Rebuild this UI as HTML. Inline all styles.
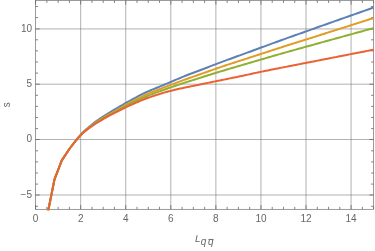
<!DOCTYPE html>
<html><head><meta charset="utf-8"><title>plot</title>
<style>
html,body{margin:0;padding:0;background:#fff;}
body{width:375px;height:251px;overflow:hidden;position:relative;font-family:"Liberation Sans",sans-serif;}
</style></head><body>
<svg width="375" height="251" viewBox="0 0 375 251" style="position:absolute;left:0;top:0">
<rect width="375" height="251" fill="#fff"/>
<line x1="80.67" y1="0.45" x2="80.67" y2="209.3" stroke="#666" stroke-opacity="0.5" stroke-width="1"/>
<line x1="125.74" y1="0.45" x2="125.74" y2="209.3" stroke="#666" stroke-opacity="0.5" stroke-width="1"/>
<line x1="170.81" y1="0.45" x2="170.81" y2="209.3" stroke="#666" stroke-opacity="0.5" stroke-width="1"/>
<line x1="215.88" y1="0.45" x2="215.88" y2="209.3" stroke="#666" stroke-opacity="0.5" stroke-width="1"/>
<line x1="260.95" y1="0.45" x2="260.95" y2="209.3" stroke="#666" stroke-opacity="0.5" stroke-width="1"/>
<line x1="306.02" y1="0.45" x2="306.02" y2="209.3" stroke="#666" stroke-opacity="0.5" stroke-width="1"/>
<line x1="351.09" y1="0.45" x2="351.09" y2="209.3" stroke="#666" stroke-opacity="0.5" stroke-width="1"/>
<line x1="35.5" y1="195.00" x2="373.6" y2="195.00" stroke="#666" stroke-opacity="0.5" stroke-width="1"/>
<line x1="35.5" y1="139.50" x2="373.6" y2="139.50" stroke="#666" stroke-opacity="0.5" stroke-width="1"/>
<line x1="35.5" y1="84.20" x2="373.6" y2="84.20" stroke="#666" stroke-opacity="0.5" stroke-width="1"/>
<line x1="35.5" y1="28.95" x2="373.6" y2="28.95" stroke="#666" stroke-opacity="0.5" stroke-width="1"/>
<path d="M35.60,209.3 v-4.2 M35.60,0.45 v4.2 M46.87,209.3 v-2.5 M46.87,0.45 v2.5 M58.14,209.3 v-2.5 M58.14,0.45 v2.5 M69.40,209.3 v-2.5 M69.40,0.45 v2.5 M80.67,209.3 v-4.2 M80.67,0.45 v4.2 M91.94,209.3 v-2.5 M91.94,0.45 v2.5 M103.21,209.3 v-2.5 M103.21,0.45 v2.5 M114.47,209.3 v-2.5 M114.47,0.45 v2.5 M125.74,209.3 v-4.2 M125.74,0.45 v4.2 M137.01,209.3 v-2.5 M137.01,0.45 v2.5 M148.28,209.3 v-2.5 M148.28,0.45 v2.5 M159.54,209.3 v-2.5 M159.54,0.45 v2.5 M170.81,209.3 v-4.2 M170.81,0.45 v4.2 M182.08,209.3 v-2.5 M182.08,0.45 v2.5 M193.34,209.3 v-2.5 M193.34,0.45 v2.5 M204.61,209.3 v-2.5 M204.61,0.45 v2.5 M215.88,209.3 v-4.2 M215.88,0.45 v4.2 M227.15,209.3 v-2.5 M227.15,0.45 v2.5 M238.41,209.3 v-2.5 M238.41,0.45 v2.5 M249.68,209.3 v-2.5 M249.68,0.45 v2.5 M260.95,209.3 v-4.2 M260.95,0.45 v4.2 M272.22,209.3 v-2.5 M272.22,0.45 v2.5 M283.49,209.3 v-2.5 M283.49,0.45 v2.5 M294.75,209.3 v-2.5 M294.75,0.45 v2.5 M306.02,209.3 v-4.2 M306.02,0.45 v4.2 M317.29,209.3 v-2.5 M317.29,0.45 v2.5 M328.56,209.3 v-2.5 M328.56,0.45 v2.5 M339.82,209.3 v-2.5 M339.82,0.45 v2.5 M351.09,209.3 v-4.2 M351.09,0.45 v4.2 M362.36,209.3 v-2.5 M362.36,0.45 v2.5 M373.62,209.3 v-2.5 M373.62,0.45 v2.5 M35.5,206.30 h2.5 M373.6,206.30 h-2.5 M35.5,195.00 h4.2 M373.6,195.00 h-4.2 M35.5,184.10 h2.5 M373.6,184.10 h-2.5 M35.5,173.00 h2.5 M373.6,173.00 h-2.5 M35.5,161.90 h2.5 M373.6,161.90 h-2.5 M35.5,150.80 h2.5 M373.6,150.80 h-2.5 M35.5,139.50 h4.2 M373.6,139.50 h-4.2 M35.5,128.60 h2.5 M373.6,128.60 h-2.5 M35.5,117.50 h2.5 M373.6,117.50 h-2.5 M35.5,106.40 h2.5 M373.6,106.40 h-2.5 M35.5,95.30 h2.5 M373.6,95.30 h-2.5 M35.5,84.20 h4.2 M373.6,84.20 h-4.2 M35.5,73.10 h2.5 M373.6,73.10 h-2.5 M35.5,62.00 h2.5 M373.6,62.00 h-2.5 M35.5,50.90 h2.5 M373.6,50.90 h-2.5 M35.5,39.80 h2.5 M373.6,39.80 h-2.5 M35.5,28.95 h4.2 M373.6,28.95 h-4.2 M35.5,17.60 h2.5 M373.6,17.60 h-2.5 M35.5,6.50 h2.5 M373.6,6.50 h-2.5" stroke="#666666" stroke-width="0.8" fill="none"/>
<rect x="35.5" y="0.45" width="338.1" height="208.85000000000002" fill="none" stroke="#666666" stroke-width="0.65"/>
<clipPath id="c"><rect x="35.5" y="0.45" width="338.6" height="209.75000000000003"/></clipPath>
<g clip-path="url(#c)"><path d="M46.30,220.30 L48.50,209.30 L54.50,179.40 L61.80,160.40 L69.70,148.50 L76.40,139.75 L78.39,137.44 L80.39,135.18 L82.38,133.00 L84.38,130.98 L86.37,129.15 L88.36,127.45 L90.36,125.82 L92.35,124.22 L94.35,122.65 L96.34,121.15 L98.33,119.77 L100.33,118.43 L102.32,117.11 L104.32,115.79 L106.31,114.51 L108.30,113.26 L110.30,112.07 L112.29,110.90 L114.29,109.73 L116.28,108.56 L118.27,107.37 L120.27,106.19 L122.26,105.02 L124.26,103.86 L126.25,102.73 L128.24,101.61 L130.24,100.52 L132.23,99.43 L134.22,98.35 L136.22,97.28 L138.21,96.22 L140.21,95.17 L142.20,94.15 L144.19,93.16 L146.19,92.22 L148.18,91.32 L150.18,90.46 L152.17,89.64 L154.16,88.83 L156.16,88.04 L158.15,87.25 L160.15,86.44 L162.14,85.61 L164.13,84.77 L166.13,83.92 L168.12,83.06 L170.12,82.21 L172.11,81.35 L174.10,80.50 L176.10,79.64 L178.09,78.80 L180.09,77.96 L182.08,77.14 L184.07,76.33 L186.07,75.53 L188.06,74.75 L190.06,73.98 L192.05,73.22 L194.04,72.47 L196.04,71.73 L198.03,70.99 L200.03,70.24 L202.02,69.49 L204.01,68.73 L206.01,67.97 L208.00,67.20 L210.00,66.43 L211.99,65.66 L213.98,64.89 L215.98,64.13 L217.97,63.38 L219.97,62.63 L221.96,61.88 L223.95,61.15 L225.95,60.41 L227.94,59.68 L229.93,58.95 L231.93,58.23 L233.92,57.50 L235.92,56.78 L237.91,56.06 L239.90,55.33 L241.90,54.61 L243.89,53.88 L245.89,53.16 L247.88,52.43 L249.87,51.70 L251.87,50.97 L253.86,50.24 L255.86,49.50 L257.85,48.77 L259.84,48.04 L261.84,47.31 L263.83,46.58 L265.83,45.85 L267.82,45.12 L269.81,44.39 L271.81,43.66 L273.80,42.93 L275.80,42.21 L277.79,41.48 L279.78,40.76 L281.78,40.04 L283.77,39.32 L285.77,38.61 L287.76,37.90 L289.75,37.18 L291.75,36.48 L293.74,35.77 L295.74,35.06 L297.73,34.35 L299.72,33.65 L301.72,32.94 L303.71,32.23 L305.71,31.53 L307.70,30.82 L309.69,30.11 L311.69,29.40 L313.68,28.69 L315.68,27.98 L317.67,27.27 L319.66,26.56 L321.66,25.85 L323.65,25.14 L325.64,24.44 L327.64,23.73 L329.63,23.02 L331.63,22.32 L333.62,21.61 L335.61,20.91 L337.61,20.21 L339.60,19.50 L341.60,18.80 L343.59,18.10 L345.58,17.40 L347.58,16.70 L349.57,16.00 L351.57,15.30 L353.56,14.60 L355.55,13.90 L357.55,13.20 L359.54,12.50 L361.54,11.80 L363.53,11.10 L365.52,10.40 L367.52,9.70 L369.51,9.00 L371.51,8.30 L373.50,7.60" fill="none" stroke="#5E81B5" stroke-width="2.0" stroke-linejoin="round"/>
<path d="M46.30,220.30 L48.50,209.30 L54.50,179.40 L61.80,160.40 L69.70,148.50 L76.40,139.88 L78.39,137.61 L80.39,135.40 L82.38,133.30 L84.38,131.37 L86.37,129.64 L88.36,128.05 L90.36,126.53 L92.35,125.04 L94.35,123.57 L96.34,122.17 L98.33,120.87 L100.33,119.63 L102.32,118.38 L104.32,117.14 L106.31,115.92 L108.30,114.76 L110.30,113.63 L112.29,112.54 L114.29,111.44 L116.28,110.33 L118.27,109.19 L120.27,108.05 L122.26,106.89 L124.26,105.74 L126.25,104.62 L128.24,103.54 L130.24,102.47 L132.23,101.42 L134.22,100.39 L136.22,99.36 L138.21,98.34 L140.21,97.33 L142.20,96.35 L144.19,95.41 L146.19,94.51 L148.18,93.64 L150.18,92.82 L152.17,92.02 L154.16,91.25 L156.16,90.48 L158.15,89.73 L160.15,88.96 L162.14,88.19 L164.13,87.42 L166.13,86.65 L168.12,85.88 L170.12,85.12 L172.11,84.37 L174.10,83.61 L176.10,82.86 L178.09,82.11 L180.09,81.37 L182.08,80.64 L184.07,79.92 L186.07,79.20 L188.06,78.49 L190.06,77.79 L192.05,77.09 L194.04,76.40 L196.04,75.70 L198.03,75.01 L200.03,74.31 L202.02,73.61 L204.01,72.91 L206.01,72.20 L208.00,71.49 L210.00,70.79 L211.99,70.08 L213.98,69.38 L215.98,68.69 L217.97,68.00 L219.97,67.33 L221.96,66.65 L223.95,65.99 L225.95,65.32 L227.94,64.67 L229.93,64.01 L231.93,63.36 L233.92,62.71 L235.92,62.06 L237.91,61.42 L239.90,60.77 L241.90,60.12 L243.89,59.48 L245.89,58.83 L247.88,58.18 L249.87,57.53 L251.87,56.88 L253.86,56.23 L255.86,55.58 L257.85,54.93 L259.84,54.28 L261.84,53.63 L263.83,52.99 L265.83,52.34 L267.82,51.69 L269.81,51.04 L271.81,50.40 L273.80,49.75 L275.80,49.11 L277.79,48.47 L279.78,47.83 L281.78,47.19 L283.77,46.55 L285.77,45.92 L287.76,45.29 L289.75,44.66 L291.75,44.03 L293.74,43.40 L295.74,42.77 L297.73,42.15 L299.72,41.52 L301.72,40.89 L303.71,40.26 L305.71,39.64 L307.70,39.00 L309.69,38.37 L311.69,37.74 L313.68,37.11 L315.68,36.47 L317.67,35.84 L319.66,35.20 L321.66,34.57 L323.65,33.93 L325.64,33.30 L327.64,32.66 L329.63,32.03 L331.63,31.40 L333.62,30.76 L335.61,30.13 L337.61,29.50 L339.60,28.86 L341.60,28.23 L343.59,27.60 L345.58,26.96 L347.58,26.33 L349.57,25.69 L351.57,25.06 L353.56,24.42 L355.55,23.79 L357.55,23.15 L359.54,22.52 L361.54,21.88 L363.53,21.24 L365.52,20.60 L367.52,19.96 L369.51,19.32 L371.51,18.68 L373.50,18.04" fill="none" stroke="#E19C24" stroke-width="2.0" stroke-linejoin="round"/>
<path d="M46.30,220.30 L48.50,209.30 L54.50,179.40 L61.80,160.40 L69.70,148.50 L76.40,139.95 L78.39,137.70 L80.39,135.53 L82.38,133.48 L84.38,131.61 L86.37,129.93 L88.36,128.40 L90.36,126.95 L92.35,125.53 L94.35,124.12 L96.34,122.78 L98.33,121.53 L100.33,120.33 L102.32,119.13 L104.32,117.93 L106.31,116.77 L108.30,115.64 L110.30,114.57 L112.29,113.52 L114.29,112.47 L116.28,111.40 L118.27,110.31 L120.27,109.20 L122.26,108.09 L124.26,107.00 L126.25,105.94 L128.24,104.91 L130.24,103.92 L132.23,102.94 L134.22,101.97 L136.22,101.00 L138.21,100.05 L140.21,99.11 L142.20,98.20 L144.19,97.32 L146.19,96.46 L148.18,95.65 L150.18,94.86 L152.17,94.10 L154.16,93.36 L156.16,92.63 L158.15,91.91 L160.15,91.19 L162.14,90.45 L164.13,89.72 L166.13,88.99 L168.12,88.29 L170.12,87.60 L172.11,86.91 L174.10,86.23 L176.10,85.55 L178.09,84.88 L180.09,84.22 L182.08,83.57 L184.07,82.92 L186.07,82.27 L188.06,81.63 L190.06,80.99 L192.05,80.36 L194.04,79.72 L196.04,79.09 L198.03,78.46 L200.03,77.83 L202.02,77.20 L204.01,76.57 L206.01,75.94 L208.00,75.32 L210.00,74.69 L211.99,74.07 L213.98,73.45 L215.98,72.83 L217.97,72.22 L219.97,71.62 L221.96,71.02 L223.95,70.42 L225.95,69.83 L227.94,69.24 L229.93,68.65 L231.93,68.06 L233.92,67.47 L235.92,66.89 L237.91,66.30 L239.90,65.72 L241.90,65.13 L243.89,64.54 L245.89,63.96 L247.88,63.37 L249.87,62.78 L251.87,62.19 L253.86,61.61 L255.86,61.02 L257.85,60.44 L259.84,59.85 L261.84,59.27 L263.83,58.69 L265.83,58.11 L267.82,57.53 L269.81,56.95 L271.81,56.38 L273.80,55.80 L275.80,55.23 L277.79,54.66 L279.78,54.09 L281.78,53.53 L283.77,52.96 L285.77,52.40 L287.76,51.84 L289.75,51.28 L291.75,50.72 L293.74,50.16 L295.74,49.61 L297.73,49.05 L299.72,48.50 L301.72,47.94 L303.71,47.39 L305.71,46.83 L307.70,46.28 L309.69,45.73 L311.69,45.17 L313.68,44.62 L315.68,44.07 L317.67,43.51 L319.66,42.96 L321.66,42.41 L323.65,41.85 L325.64,41.30 L327.64,40.75 L329.63,40.20 L331.63,39.65 L333.62,39.10 L335.61,38.55 L337.61,38.00 L339.60,37.45 L341.60,36.90 L343.59,36.35 L345.58,35.80 L347.58,35.25 L349.57,34.70 L351.57,34.15 L353.56,33.61 L355.55,33.06 L357.55,32.51 L359.54,31.96 L361.54,31.42 L363.53,30.87 L365.52,30.32 L367.52,29.78 L369.51,29.23 L371.51,28.69 L373.50,28.14" fill="none" stroke="#8FB032" stroke-width="2.0" stroke-linejoin="round"/>
<path d="M46.30,220.30 L48.50,209.30 L54.50,179.40 L61.80,160.40 L69.70,148.50 L76.40,140.00 L78.39,137.76 L80.39,135.62 L82.38,133.60 L84.38,131.77 L86.37,130.13 L88.36,128.64 L90.36,127.23 L92.35,125.86 L94.35,124.49 L96.34,123.19 L98.33,121.98 L100.33,120.81 L102.32,119.63 L104.32,118.47 L106.31,117.33 L108.30,116.24 L110.30,115.19 L112.29,114.17 L114.29,113.15 L116.28,112.13 L118.27,111.09 L120.27,110.06 L122.26,109.05 L124.26,108.06 L126.25,107.09 L128.24,106.15 L130.24,105.24 L132.23,104.35 L134.22,103.47 L136.22,102.60 L138.21,101.74 L140.21,100.89 L142.20,100.07 L144.19,99.28 L146.19,98.51 L148.18,97.78 L150.18,97.08 L152.17,96.40 L154.16,95.75 L156.16,95.10 L158.15,94.48 L160.15,93.85 L162.14,93.24 L164.13,92.65 L166.13,92.08 L168.12,91.55 L170.12,91.02 L172.11,90.51 L174.10,90.01 L176.10,89.51 L178.09,89.04 L180.09,88.58 L182.08,88.15 L184.07,87.73 L186.07,87.33 L188.06,86.93 L190.06,86.54 L192.05,86.14 L194.04,85.74 L196.04,85.33 L198.03,84.92 L200.03,84.51 L202.02,84.10 L204.01,83.68 L206.01,83.27 L208.00,82.86 L210.00,82.45 L211.99,82.05 L213.98,81.64 L215.98,81.23 L217.97,80.83 L219.97,80.42 L221.96,80.02 L223.95,79.61 L225.95,79.21 L227.94,78.80 L229.93,78.39 L231.93,77.98 L233.92,77.57 L235.92,77.16 L237.91,76.74 L239.90,76.32 L241.90,75.90 L243.89,75.47 L245.89,75.04 L247.88,74.61 L249.87,74.17 L251.87,73.74 L253.86,73.31 L255.86,72.88 L257.85,72.46 L259.84,72.04 L261.84,71.62 L263.83,71.21 L265.83,70.80 L267.82,70.40 L269.81,70.00 L271.81,69.60 L273.80,69.20 L275.80,68.81 L277.79,68.42 L279.78,68.03 L281.78,67.64 L283.77,67.25 L285.77,66.86 L287.76,66.47 L289.75,66.08 L291.75,65.69 L293.74,65.30 L295.74,64.91 L297.73,64.52 L299.72,64.13 L301.72,63.74 L303.71,63.35 L305.71,62.96 L307.70,62.57 L309.69,62.18 L311.69,61.79 L313.68,61.40 L315.68,61.01 L317.67,60.62 L319.66,60.23 L321.66,59.84 L323.65,59.45 L325.64,59.06 L327.64,58.67 L329.63,58.28 L331.63,57.89 L333.62,57.50 L335.61,57.11 L337.61,56.72 L339.60,56.33 L341.60,55.94 L343.59,55.55 L345.58,55.16 L347.58,54.77 L349.57,54.38 L351.57,53.99 L353.56,53.60 L355.55,53.21 L357.55,52.82 L359.54,52.43 L361.54,52.04 L363.53,51.65 L365.52,51.26 L367.52,50.87 L369.51,50.48 L371.51,50.09 L373.50,49.70" fill="none" stroke="#EB6235" stroke-width="2.0" stroke-linejoin="round"/>
</g>
<g style="filter:grayscale(1)">
<text x="35.60" y="221.9" font-size="10" text-anchor="middle" fill="#666666" font-family="Liberation Sans, sans-serif">0</text>
<text x="80.67" y="221.9" font-size="10" text-anchor="middle" fill="#666666" font-family="Liberation Sans, sans-serif">2</text>
<text x="125.74" y="221.9" font-size="10" text-anchor="middle" fill="#666666" font-family="Liberation Sans, sans-serif">4</text>
<text x="170.81" y="221.9" font-size="10" text-anchor="middle" fill="#666666" font-family="Liberation Sans, sans-serif">6</text>
<text x="215.88" y="221.9" font-size="10" text-anchor="middle" fill="#666666" font-family="Liberation Sans, sans-serif">8</text>
<text x="260.95" y="221.9" font-size="10" text-anchor="middle" fill="#666666" font-family="Liberation Sans, sans-serif">10</text>
<text x="306.02" y="221.9" font-size="10" text-anchor="middle" fill="#666666" font-family="Liberation Sans, sans-serif">12</text>
<text x="351.09" y="221.9" font-size="10" text-anchor="middle" fill="#666666" font-family="Liberation Sans, sans-serif">14</text>
<text x="32.0" y="197.80" font-size="10" text-anchor="end" fill="#666666" font-family="Liberation Sans, sans-serif">−5</text>
<text x="32.0" y="142.30" font-size="10" text-anchor="end" fill="#666666" font-family="Liberation Sans, sans-serif">0</text>
<text x="32.0" y="87.00" font-size="10" text-anchor="end" fill="#666666" font-family="Liberation Sans, sans-serif">5</text>
<text x="32.0" y="31.75" font-size="10" text-anchor="end" fill="#666666" font-family="Liberation Sans, sans-serif">10</text>
<text transform="translate(10.0,104.8) rotate(-90)" font-size="10" text-anchor="middle" fill="#666666" font-family="Liberation Sans, sans-serif">s</text>
<text x="195.1" y="241.6" font-size="10" font-style="italic" fill="#666666" font-family="Liberation Sans, sans-serif" style="text-rendering:geometricPrecision">L</text>
<text x="200.8" y="245.0" font-size="10" font-style="italic" fill="#666666" font-family="Liberation Sans, sans-serif">q</text>
<text x="208.0" y="245.0" font-size="10" font-style="italic" fill="#666666" font-family="Liberation Sans, sans-serif">q</text>
<line x1="208.3" y1="239.45" x2="213.2" y2="239.45" stroke="#666666" stroke-width="0.75"/>
</g>
</svg>
</body></html>
